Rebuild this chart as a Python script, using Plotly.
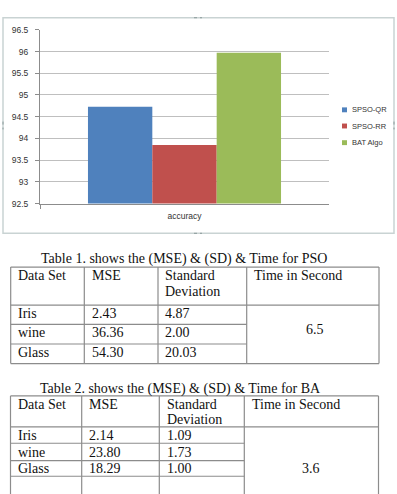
import plotly.graph_objects as go

W, H = 397, 494

# ---- chart data ----
categories = ["accuracy"]
series_names = ["SPSO-QR", "SPSO-RR", "BAT Algo"]
series_values = [[94.73], [93.85], [95.97]]
series_colors = ["#4f81bd", "#c0504d", "#9bbb59"]
y_ticks = [92.5, 93, 93.5, 94, 94.5, 95, 95.5, 96, 96.5]

# ---- table data ----
t1_caption = "Table 1. shows the (MSE) & (SD) & Time for PSO"
t1_header = ["Data Set", "MSE", "Standard\nDeviation", "Time in Second"]
t1_sets = ["Iris", "wine", "Glass"]
t1_mse = ["2.43", "36.36", "54.30"]
t1_sd = ["4.87", "2.00", "20.03"]
t1_time = "6.5"

t2_caption = "Table 2. shows the (MSE) & (SD) & Time for BA"
t2_header = ["Data Set", "MSE", "Standard\nDeviation", "Time in Second"]
t2_sets = ["Iris", "wine", "Glass"]
t2_mse = ["2.14", "23.80", "18.29"]
t2_sd = ["1.09", "1.73", "1.00"]
t2_time = "3.6"


def px(x):
    return x / W


def py(y):
    return 1 - y / H


fig = go.Figure()
for name, vals, col in zip(series_names, series_values, series_colors):
    fig.add_trace(go.Bar(x=categories, y=vals, name=name, marker_color=col,
                         marker_line_width=0))

shapes = []
annotations = []

# chart frame
shapes.append(dict(type="rect", xref="paper", yref="paper",
                   x0=px(3), x1=px(394), y0=py(233), y1=py(13),
                   line=dict(color="#c9d3d3", width=1.5), layer="below"))
# frame handles
for (hx, hy) in [(198, 13), (198, 233)]:
    shapes.append(dict(type="line", xref="paper", yref="paper",
                       x0=px(hx - 4), x1=px(hx + 4), y0=py(hy), y1=py(hy),
                       line=dict(color="#8a9a9a", width=1, dash="dot")))
for hx in [3, 394]:
    shapes.append(dict(type="line", xref="paper", yref="paper",
                       x0=px(hx), x1=px(hx), y0=py(119), y1=py(127),
                       line=dict(color="#8a9a9a", width=1, dash="dot")))

# manual legend
leg_y = [107, 123.5, 140.5]
for name, col, ly in zip(series_names, series_colors, leg_y):
    shapes.append(dict(type="rect", xref="paper", yref="paper",
                       x0=px(342), x1=px(347), y0=py(ly + 2.5), y1=py(ly - 2.5),
                       fillcolor=col, line=dict(width=0)))
    annotations.append(dict(text=name, xref="paper", yref="paper",
                            x=px(350), y=py(ly), xanchor="left", yanchor="middle",
                            showarrow=False,
                            font=dict(family="Liberation Sans", size=7.5, color="#333333")))

SERIF = "Liberation Serif"
FS = 14
LC = "#8c8c8c"


def hline(x0, x1, y, w=1.2):
    shapes.append(dict(type="line", xref="paper", yref="paper",
                       x0=px(x0), x1=px(x1), y0=py(y), y1=py(y),
                       line=dict(color=LC, width=w)))


def vline(x, y0, y1, w=1.2):
    shapes.append(dict(type="line", xref="paper", yref="paper",
                       x0=px(x), x1=px(x), y0=py(y0), y1=py(y1),
                       line=dict(color=LC, width=w)))


def text(s, x, y, anchor="left"):
    annotations.append(dict(text=s, xref="paper", yref="paper", x=px(x), y=py(y),
                            xanchor=anchor, yanchor="middle", showarrow=False,
                            font=dict(family=SERIF, size=FS, color="#111111")))


def table(caption, cap_x, cap_y, header, sets, mse, sd, tval,
          cols, top, hdr_bot, row_lines, bottom, hdr_y, dev_y, row_ys, tval_xy, text_x):
    text(caption, cap_x, cap_y, anchor="center")
    for c in cols:
        vline(c, top, bottom)
    hline(cols[0], cols[-1], top)
    hline(cols[0], cols[-1], hdr_bot)
    for rl in row_lines:
        hline(cols[0], cols[3], rl)
    if bottom < H:
        hline(cols[0], cols[-1], bottom)
    text(header[0], text_x[0], hdr_y)
    text(header[1], text_x[1], hdr_y)
    h2 = header[2].split("\n")
    text(h2[0], text_x[2], hdr_y)
    text(h2[1], text_x[2], dev_y)
    text(header[3], text_x[3], hdr_y)
    for s, m, d, ry in zip(sets, mse, sd, row_ys):
        text(s, text_x[0], ry)
        text(m, text_x[1], ry)
        text(d, text_x[2], ry)
    text(tval, tval_xy[0], tval_xy[1], anchor="center")


table(t1_caption, 184, 259, t1_header, t1_sets, t1_mse, t1_sd, t1_time,
      cols=[10.7, 84.3, 158, 246.7, 379], top=267.5, hdr_bot=306.3,
      row_lines=[326, 346], bottom=366, hdr_y=276, dev_y=292,
      row_ys=[314.5, 334.5, 355], tval_xy=(315, 331),
      text_x=[16, 89.5, 163, 252])

table(t2_caption, 180, 391.5, t2_header, t2_sets, t2_mse, t2_sd, t2_time,
      cols=[10.5, 81.7, 159.3, 244.3, 378.5], top=399, hdr_bot=430.5,
      row_lines=[447.3, 465, 481], bottom=600, hdr_y=407.5, dev_y=423.5,
      row_ys=[439.5, 456.7, 473.5], tval_xy=(311, 472.7),
      text_x=[16, 87, 165, 250])

fig.update_layout(
    width=W, height=H,
    margin=dict(l=0, r=0, t=0, b=0),
    paper_bgcolor="white", plot_bgcolor="white",
    barmode="group", bargap=0.332, bargroupgap=0,
    showlegend=False,
    shapes=shapes, annotations=annotations,
    xaxis=dict(domain=[px(40), px(329)], range=[-0.5, 0.5],
               showline=True, linecolor="#8c8c8c", linewidth=1,
               ticks="outside", tickson="boundaries", ticklen=4, tickcolor="#8c8c8c",
               ticklabelstandoff=4,
               tickfont=dict(family="Liberation Sans", size=8.5, color="#333333"),
               showgrid=False, fixedrange=True),
    yaxis=dict(domain=[py(202.7), py(25.3)], range=[92.5, 96.5],
               tickvals=y_ticks, ticktext=[f"{v:g}" for v in y_ticks],
               showline=True, linecolor="#8c8c8c", linewidth=1,
               ticks="outside", ticklen=4, tickcolor="#8c8c8c",
               ticklabelstandoff=5,
               showgrid=True, gridcolor="#bfbfbf", gridwidth=1,
               zeroline=False,
               tickfont=dict(family="Liberation Sans", size=8.5, color="#333333")),
)

fig.write_html("out.html")
